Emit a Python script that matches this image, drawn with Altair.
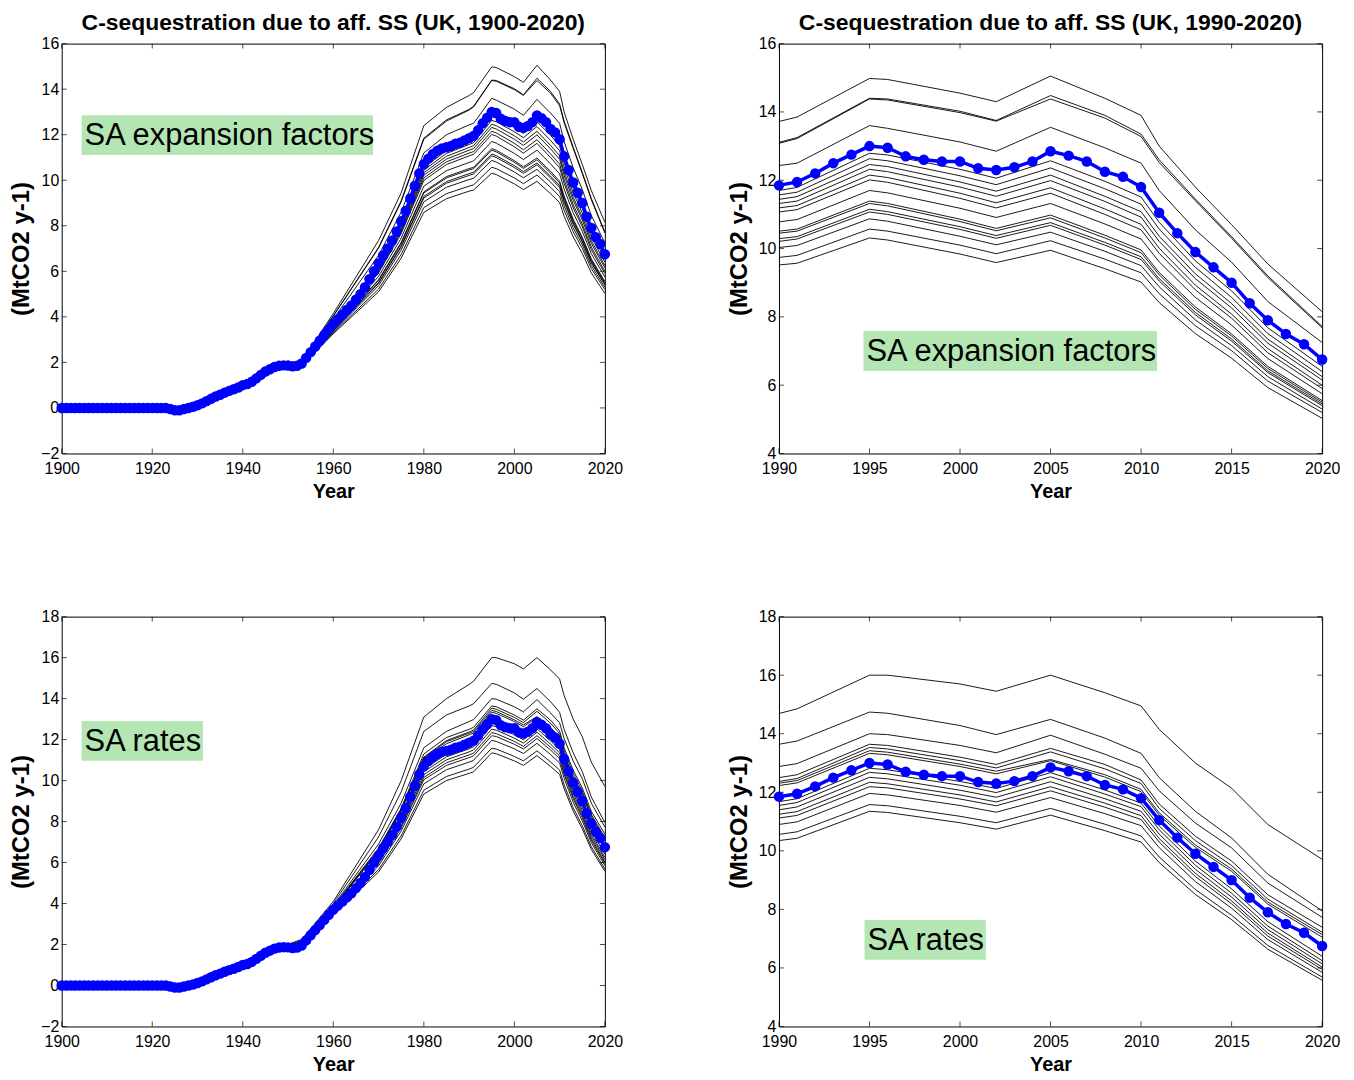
import altair as alt
import pandas as pd

# ---------------- data ----------------
YEARS = list(range(1900, 2021))

# central (blue) estimate, one value per year 1900..2020
BLUE = [
    0.0, 0.0, 0.0, 0.0, 0.0, 0.0, 0.0, 0.0, 0.0, 0.0,          # 1900-1909
    0.0, 0.0, 0.0, 0.0, 0.0, 0.0, 0.0, 0.0, 0.0, 0.0,          # 1910-1919
    0.0, 0.0, 0.0, 0.0, -0.05, -0.1, -0.1, -0.05, 0.0, 0.05,   # 1920-1929
    0.12, 0.2, 0.3, 0.4, 0.5, 0.58, 0.67, 0.75, 0.82, 0.9,     # 1930-1939
    1.0, 1.05, 1.15, 1.3, 1.45, 1.6, 1.7, 1.8, 1.85, 1.87,     # 1940-1949
    1.86, 1.83, 1.85, 1.95, 2.2, 2.45, 2.7, 2.95, 3.2, 3.45,   # 1950-1959
    3.7, 3.9, 4.1, 4.3, 4.5, 4.75, 5.0, 5.3, 5.65, 6.0,        # 1960-1969
    6.35, 6.7, 7.0, 7.35, 7.75, 8.2, 8.65, 9.2, 9.75, 10.3,    # 1970-1979
    10.7, 10.95, 11.15, 11.3, 11.4, 11.45, 11.5, 11.6, 11.65, 11.75,   # 1980-1989
    11.85, 11.95, 12.2, 12.5, 12.75, 13.0, 12.95, 12.7, 12.6, 12.55,   # 1990-1999
    12.55, 12.35, 12.3, 12.38, 12.55, 12.85, 12.72, 12.55, 12.25, 12.1, # 2000-2009
    11.8, 11.05, 10.45, 9.9, 9.45, 9.0, 8.4, 7.9, 7.5, 7.2,    # 2010-2019
    6.75,                                                      # 2020
]

KEY_YEARS = [1945, 1953, 1960, 1970, 1975, 1980, 1985, 1990, 1991, 1995, 1996,
             2000, 2002, 2005, 2008, 2010, 2011, 2013, 2015, 2017, 2020]

# sensitivity runs: SA expansion factors
EXP_LINES = {
    "E1":  [1.62, 2.05, 4.15, 7.35, 9.45, 12.4, 13.2, 13.72, 13.85, 14.98, 14.95, 14.55, 14.3, 15.05, 14.4, 13.9, 13.0, 11.8, 10.7, 9.55, 8.15],
    "E2a": [1.62, 2.03, 4.05, 7.05, 9.1, 11.85, 12.65, 13.11, 13.25, 14.4, 14.38, 14.02, 13.75, 14.48, 13.9, 13.35, 12.6, 11.45, 10.35, 9.2, 7.72],
    "E2b": [1.62, 2.02, 4.03, 7.02, 9.05, 11.8, 12.6, 13.08, 13.22, 14.38, 14.35, 13.98, 13.73, 14.38, 13.82, 13.28, 12.52, 11.4, 10.3, 9.15, 7.68],
    "E3":  [1.61, 2.0, 3.9, 6.7, 8.6, 11.2, 12.0, 12.43, 12.5, 13.6, 13.52, 13.12, 12.85, 13.55, 12.95, 12.5, 11.7, 10.55, 9.6, 8.45, 7.25],
    "L1":  [1.6, 1.94, 3.67, 6.27, 8.09, 10.56, 11.30, 11.70, 11.79, 12.79, 12.74, 12.32, 12.06, 12.57, 11.97, 11.51, 10.77, 9.64, 8.76, 7.68, 6.55],
    "L2":  [1.6, 1.94, 3.65, 6.20, 8.0, 10.44, 11.18, 11.57, 11.65, 12.63, 12.57, 12.13, 11.87, 12.36, 11.75, 11.30, 10.57, 9.45, 8.57, 7.51, 6.40],
    "L3":  [1.6, 1.93, 3.62, 6.13, 7.91, 10.33, 11.05, 11.44, 11.52, 12.46, 12.40, 11.95, 11.68, 12.15, 11.53, 11.08, 10.36, 9.26, 8.39, 7.35, 6.25],
    "L4":  [1.6, 1.92, 3.60, 6.06, 7.83, 10.22, 10.93, 11.32, 11.39, 12.32, 12.25, 11.80, 11.53, 11.99, 11.38, 10.92, 10.21, 9.12, 8.26, 7.23, 6.15],
    "L5":  [1.6, 1.92, 3.58, 5.99, 7.74, 10.10, 10.81, 11.19, 11.26, 12.15, 12.08, 11.62, 11.34, 11.78, 11.16, 10.71, 10.01, 8.93, 8.08, 7.07, 6.00],
    "L6":  [1.6, 1.91, 3.55, 5.93, 7.66, 9.99, 10.69, 11.07, 11.14, 12.01, 11.94, 11.47, 11.19, 11.62, 11.00, 10.55, 9.86, 8.79, 7.96, 6.95, 5.90],
    "L7":  [1.6, 1.90, 3.50, 5.78, 7.46, 9.74, 10.42, 10.78, 10.85, 11.70, 11.63, 11.18, 10.91, 11.32, 10.72, 10.28, 9.61, 8.57, 7.76, 6.78, 5.75],
    "L8":  [1.6, 1.88, 3.45, 5.63, 7.27, 9.49, 10.16, 10.51, 10.57, 11.39, 11.32, 10.86, 10.59, 10.98, 10.39, 9.96, 9.30, 8.29, 7.50, 6.55, 5.55],
    "L9":  [1.6, 1.88, 3.44, 5.60, 7.23, 9.44, 10.10, 10.45, 10.51, 11.32, 11.25, 10.79, 10.52, 10.90, 10.31, 9.88, 9.23, 8.22, 7.44, 6.49, 5.50],
    "L10": [1.6, 1.87, 3.41, 5.51, 7.12, 9.29, 9.94, 10.29, 10.35, 11.15, 11.08, 10.64, 10.38, 10.76, 10.18, 9.76, 9.12, 8.13, 7.35, 6.42, 5.45],
    "L11": [1.6, 1.87, 3.39, 5.47, 7.07, 9.22, 9.87, 10.21, 10.28, 11.07, 11.00, 10.56, 10.30, 10.68, 10.10, 9.68, 9.05, 8.06, 7.29, 6.37, 5.40],
    "L12": [1.6, 1.86, 3.36, 5.37, 6.94, 9.05, 9.69, 10.03, 10.09, 10.87, 10.80, 10.36, 10.11, 10.48, 9.92, 9.50, 8.88, 7.91, 7.16, 6.25, 5.30],
    "L13": [1.6, 1.85, 3.30, 5.22, 6.74, 8.80, 9.41, 9.74, 9.80, 10.57, 10.51, 10.10, 9.85, 10.23, 9.69, 9.29, 8.68, 7.74, 7.01, 6.12, 5.20],
    "L14": [1.6, 1.83, 3.26, 5.10, 6.58, 8.59, 9.19, 9.52, 9.57, 10.31, 10.25, 9.84, 9.59, 9.95, 9.41, 9.02, 8.42, 7.51, 6.79, 5.93, 5.03],
}

# sensitivity runs: SA rates
RATE_LINES = {
    "R1": [1.6, 2.25, 4.1, 7.6, 10.0, 13.1, 14.0, 14.69, 14.85, 16.0, 16.0, 15.7, 15.45, 16.0, 15.4, 14.95, 14.15, 13.0, 12.14, 10.9, 9.71],
    "R2": [1.6, 2.2, 4.0, 7.25, 9.45, 12.4, 13.2, 13.64, 13.75, 14.74, 14.7, 14.28, 13.97, 14.49, 13.85, 13.33, 12.5, 11.35, 10.44, 9.2, 7.95],
    "R3": [1.6, 2.15, 3.9, 6.9, 8.9, 11.6, 12.4, 12.88, 12.98, 14.0, 13.97, 13.6, 13.35, 13.95, 13.3, 12.82, 12.05, 10.95, 10.1, 8.9, 7.73],
    "R4": [1.6, 2.1, 3.85, 6.7, 8.65, 11.3, 12.1, 12.5, 12.6, 13.64, 13.6, 13.2, 12.95, 13.5, 12.95, 12.42, 11.6, 10.5, 9.65, 8.5, 7.39],
    "R5": [1.6, 2.08, 3.82, 6.65, 8.6, 11.15, 11.95, 12.37, 12.47, 13.53, 13.48, 13.08, 12.83, 13.38, 12.8, 12.3, 11.45, 10.35, 9.5, 8.35, 7.22],
    "R6": [1.6, 2.06, 3.8, 6.6, 8.55, 11.1, 11.9, 12.31, 12.4, 13.42, 13.37, 12.96, 12.72, 13.12, 12.6, 12.1, 11.3, 10.2, 9.38, 8.25, 7.14],
    "R7": [1.6, 2.05, 3.78, 6.55, 8.5, 11.05, 11.8, 12.23, 12.32, 13.33, 13.28, 12.88, 12.63, 13.08, 12.52, 12.02, 11.22, 10.12, 9.3, 8.18, 7.05],
    "S1": [1.6, 1.94, 3.67, 6.26, 8.09, 10.55, 11.29, 11.68, 11.78, 12.82, 12.77, 12.37, 12.13, 12.67, 12.08, 11.63, 10.85, 9.65, 8.70, 7.58, 6.40],
    "S2": [1.6, 1.94, 3.64, 6.19, 8.0, 10.43, 11.16, 11.55, 11.65, 12.68, 12.63, 12.24, 11.99, 12.53, 11.94, 11.51, 10.72, 9.51, 8.55, 7.43, 6.25],
    "S3": [1.6, 1.93, 3.62, 6.11, 7.89, 10.29, 11.01, 11.40, 11.50, 12.51, 12.46, 12.07, 11.83, 12.36, 11.78, 11.35, 10.57, 9.37, 8.42, 7.31, 6.14],
    "S4": [1.6, 1.92, 3.59, 6.03, 7.78, 10.15, 10.87, 11.25, 11.34, 12.34, 12.29, 11.91, 11.67, 12.19, 11.63, 11.20, 10.42, 9.23, 8.29, 7.19, 6.03],
    "S5": [1.6, 1.91, 3.56, 5.96, 7.69, 10.04, 10.74, 11.12, 11.21, 12.19, 12.15, 11.77, 11.54, 12.05, 11.49, 11.07, 10.30, 9.12, 8.19, 7.09, 5.95],
    "S6": [1.6, 1.90, 3.52, 5.84, 7.54, 9.84, 10.53, 10.90, 10.99, 11.96, 11.91, 11.55, 11.32, 11.82, 11.27, 10.86, 10.11, 8.95, 8.04, 6.97, 5.85],
    "S7": [1.6, 1.89, 3.46, 5.66, 7.31, 9.53, 10.20, 10.56, 10.65, 11.58, 11.54, 11.18, 10.96, 11.45, 10.91, 10.51, 9.79, 8.68, 7.80, 6.77, 5.69],
    "S8": [1.6, 1.88, 3.42, 5.54, 7.16, 9.34, 10.0, 10.35, 10.43, 11.35, 11.31, 10.96, 10.74, 11.22, 10.69, 10.30, 9.60, 8.51, 7.65, 6.64, 5.58],
}

TITLE_FULL = "C-sequestration due to aff. SS (UK, 1900-2020)"
TITLE_RECENT = "C-sequestration due to aff. SS (UK, 1990-2020)"
LABEL_EXP = "SA expansion factors"
LABEL_RATE = "SA rates"
X_TITLE = "Year"
Y_TITLE = "(MtCO2 y-1)"

X_TICKS_FULL = [1900, 1920, 1940, 1960, 1980, 2000, 2020]
X_TICKS_RECENT = [1990, 1995, 2000, 2005, 2010, 2015, 2020]
Y_TICKS_TOP_FULL = [-2, 0, 2, 4, 6, 8, 10, 12, 14, 16]
Y_TICKS_BOT_FULL = [-2, 0, 2, 4, 6, 8, 10, 12, 14, 16, 18]
Y_TICKS_TOP_RECENT = [4, 6, 8, 10, 12, 14, 16]
Y_TICKS_BOT_RECENT = [4, 6, 8, 10, 12, 14, 16, 18]

# ---------------- styling ----------------
FONT = "Liberation Sans, Arial, sans-serif"
W, H = 546, 412
BLUE_COLOR = "#0000ff"
GREEN = "#b3e6b3"


def panel(lines, xdom, xticks, ydom, yticks, label, box, title=None):
    start = xdom[0]
    blue_df = pd.DataFrame({"year": YEARS, "value": BLUE})
    blue_df = blue_df[blue_df["year"] >= start]

    rows = []
    for name, vals in lines.items():
        for yr, v in zip(KEY_YEARS, vals):
            if yr >= start:
                rows.append({"member": name, "year": yr, "value": v})
    lines_df = pd.DataFrame(rows)

    x = alt.X(
        "year:Q",
        scale=alt.Scale(domain=xdom, nice=False, zero=False),
        axis=alt.Axis(values=xticks, format="d", title=X_TITLE, ticks=False, grid=False,
                      domain=False, labelFlush=False, labelFontSize=16, labelPadding=7,
                      labelColor="black", titleColor="black",
                      titleFontSize=20, titleFontWeight="bold", titlePadding=5),
    )
    y = alt.Y(
        "value:Q",
        scale=alt.Scale(domain=ydom, nice=False, zero=False),
        axis=alt.Axis(values=yticks, title=Y_TITLE, ticks=False, grid=False, domain=False,
                      labelFontSize=16, labelPadding=3, labelColor="black", titleColor="black",
                      titleFontSize=24, titleFontWeight="bold", titlePadding=6,
                      minExtent=22, maxExtent=22),
    )

    xt = pd.DataFrame({"year": xticks})
    yt = pd.DataFrame({"value": yticks})
    tick_b = alt.Chart(xt).mark_tick(orient="vertical", color="black", size=5, thickness=1).encode(
        x=x, y=alt.value(H - 2.5))
    tick_t = alt.Chart(xt).mark_tick(orient="vertical", color="black", size=5, thickness=1).encode(
        x=x, y=alt.value(2.5))
    tick_l = alt.Chart(yt).mark_tick(orient="horizontal", color="black", size=5, thickness=1).encode(
        y=y, x=alt.value(2.5))
    tick_r = alt.Chart(yt).mark_tick(orient="horizontal", color="black", size=5, thickness=1).encode(
        y=y, x=alt.value(W - 2.5))

    ens = alt.Chart(lines_df).mark_line(color="black", strokeWidth=0.9).encode(
        x=x, y=y, detail="member:N", order="year:Q")
    bline = alt.Chart(blue_df).mark_line(color=BLUE_COLOR, strokeWidth=3.5).encode(x=x, y=y)
    bpts = alt.Chart(blue_df).mark_circle(color=BLUE_COLOR, size=110, opacity=1).encode(x=x, y=y)

    one = pd.DataFrame({"k": [0]})
    bx0, bx1, by0, by1 = box
    rect = alt.Chart(one).mark_rect(color=GREEN).encode(
        x=alt.value(bx0), x2=alt.value(bx1), y=alt.value(by0), y2=alt.value(by1))
    txt = alt.Chart(one).mark_text(text=label, align="left", baseline="middle", fontSize=31,
                                   font=FONT, color="black").encode(
        x=alt.value(bx0 + 3), y=alt.value((by0 + by1) / 2 + 1))

    props = dict(width=W, height=H)
    if title:
        props["title"] = alt.TitleParams(title, fontSize=23, fontWeight="bold", font=FONT,
                                         color="black", anchor="middle", frame="group", offset=1)
    return alt.layer(tick_b, tick_t, tick_l, tick_r, ens, bline, bpts, rect, txt).properties(**props)


tl = panel(EXP_LINES, [1900, 2020], X_TICKS_FULL, [-2, 16], Y_TICKS_TOP_FULL,
           LABEL_EXP, (20, 313, 72, 112), TITLE_FULL)
tr = panel(EXP_LINES, [1990, 2020], X_TICKS_RECENT, [4, 16], Y_TICKS_TOP_RECENT,
           LABEL_EXP, (85, 380, 289, 329), TITLE_RECENT)
bl = panel(RATE_LINES, [1900, 2020], X_TICKS_FULL, [-2, 18], Y_TICKS_BOT_FULL,
           LABEL_RATE, (20, 142, 105, 145))
br = panel(RATE_LINES, [1990, 2020], X_TICKS_RECENT, [4, 18], Y_TICKS_BOT_RECENT,
           LABEL_RATE, (86, 208, 305, 345))

top = alt.hconcat(tl, tr, spacing=103)
bottom = alt.hconcat(bl, br, spacing=103)
chart = alt.vconcat(top, bottom, spacing=106).properties(
    padding={"left": 1, "top": 0, "right": 5, "bottom": 5}
).configure(font=FONT).configure_view(stroke="black", strokeWidth=1).configure_axis(
    labelFont=FONT, titleFont=FONT
)

chart.save("out.html", embed_options={"renderer": "svg", "actions": False})
